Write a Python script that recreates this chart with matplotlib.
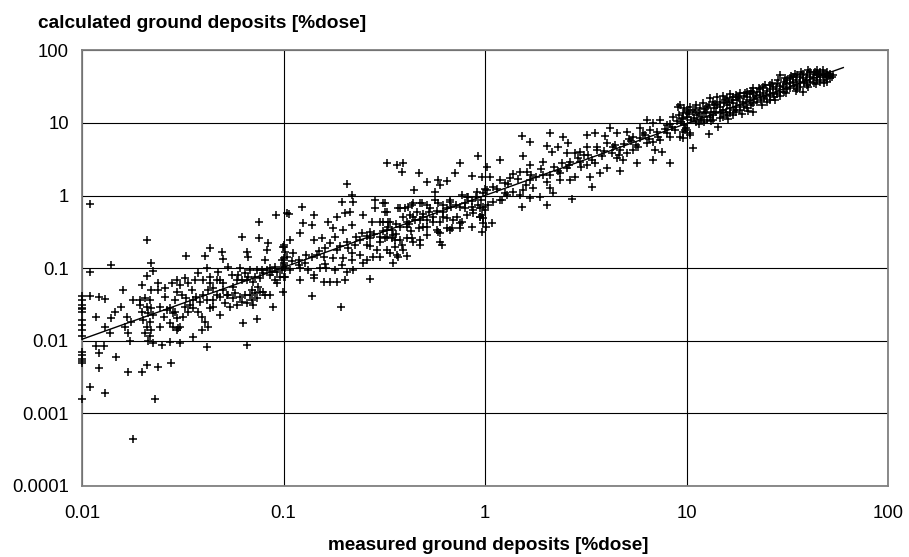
import matplotlib
matplotlib.use("Agg")
import matplotlib.pyplot as plt
from matplotlib.ticker import FixedLocator, FixedFormatter, NullLocator

plt.rcParams['font.family'] = ['Liberation Sans', 'DejaVu Sans']

# measured vs calculated ground deposits [%dose]
pts_decade1 = [
    (0.011, 0.77), (0.021, 0.244), (0.0139, 0.111), (0.0219, 0.119), (0.011, 0.0895), (0.0226, 0.091),
    (0.0211, 0.078), (0.0198, 0.0587), (0.0221, 0.050), (0.011, 0.0414), (0.0121, 0.040), (0.013, 0.0375),
    (0.01, 0.041), (0.01, 0.036), (0.01, 0.031), (0.01, 0.0285), (0.01, 0.027), (0.01, 0.025),
    (0.0157, 0.0295), (0.0146, 0.025), (0.014, 0.0204), (0.0163, 0.0156),
    (0.01, 0.0193), (0.01, 0.0166), (0.01, 0.0142), (0.01, 0.0115), (0.0118, 0.0215), (0.013, 0.0156),
    (0.0138, 0.0127), (0.017, 0.0127), (0.0173, 0.0098),
    (0.0194, 0.0365), (0.0206, 0.0385), (0.0217, 0.0365), (0.0194, 0.031), (0.021, 0.0295), (0.0221, 0.0284),
    (0.0198, 0.025), (0.0213, 0.024), (0.0226, 0.0228), (0.0201, 0.0193), (0.0217, 0.0183), (0.021, 0.0156),
    (0.0221, 0.0142), (0.0206, 0.0127), (0.0217, 0.0115), (0.0213, 0.0098), (0.0226, 0.0094),
    (0.0121, 0.0042), (0.0148, 0.006), (0.017, 0.00375), (0.0198, 0.00375), (0.021, 0.0047), (0.0239, 0.0044),
    (0.0278, 0.005), (0.011, 0.00233), (0.013, 0.0019), (0.01, 0.0016), (0.023, 0.0016), (0.018, 0.00044),
    (0.01, 0.0071), (0.01, 0.0064), (0.01, 0.0057), (0.01, 0.0052), (0.01, 0.0049), (0.0121, 0.0068),
    (0.0118, 0.0084), (0.0128, 0.0084),
    (0.0239, 0.062), (0.0258, 0.053), (0.0244, 0.0295), (0.0263, 0.0265), (0.0249, 0.0088), (0.0273, 0.0095),
    (0.0239, 0.05), (0.0258, 0.0405), (0.0279, 0.0618), (0.0295, 0.0475), (0.0289, 0.0365), (0.0254, 0.0215),
    (0.0274, 0.0174), (0.0295, 0.0141), (0.0244, 0.0157), (0.0167, 0.0215), (0.0176, 0.0183),
    (0.0179, 0.0365), (0.016, 0.05),
    (0.0918, 0.54), (0.104, 0.57), (0.076, 0.43), (0.062, 0.27), (0.076, 0.258), (0.084, 0.22), (0.1, 0.21),
    (0.0432, 0.188), (0.0328, 0.147), (0.0408, 0.147), (0.0493, 0.169), (0.0502, 0.132), (0.0656, 0.169),
    (0.0668, 0.144), (0.0825, 0.178), (0.081, 0.13),
    (0.1, 0.198), (0.102, 0.169), (0.1, 0.137), (0.101, 0.117), (0.102, 0.1), (0.1, 0.076),
    (0.0378, 0.087), (0.0415, 0.0995), (0.0432, 0.0765), (0.0475, 0.0895), (0.0484, 0.0689), (0.0532, 0.103),
    (0.0553, 0.0805), (0.0586, 0.0689), (0.0564, 0.0557), (0.0608, 0.0995), (0.0644, 0.085), (0.0682, 0.0944),
    (0.0656, 0.0689), (0.0723, 0.0765), (0.0764, 0.0726), (0.0794, 0.085), (0.0857, 0.0805), (0.0908, 0.0689),
    (0.0962, 0.0765), (0.075, 0.0557), (0.0695, 0.050), (0.0794, 0.0475), (0.0857, 0.0427), (0.0925, 0.062),
    (0.0295, 0.0689), (0.0306, 0.0588), (0.0324, 0.0726), (0.0337, 0.062), (0.035, 0.05), (0.0364, 0.0689),
    (0.0313, 0.0427), (0.033, 0.0385), (0.0343, 0.0311), (0.037, 0.0405), (0.04, 0.0427), (0.0424, 0.05),
    (0.0449, 0.0528), (0.0466, 0.0427), (0.0502, 0.05), (0.0532, 0.0427), (0.0564, 0.0385), (0.0513, 0.0328),
    (0.0542, 0.0295), (0.0586, 0.0311), (0.062, 0.0346), (0.0656, 0.0328), (0.0695, 0.0365), (0.0736, 0.0385),
    (0.0708, 0.0311),
    (0.0284, 0.0239), (0.0295, 0.0204), (0.0306, 0.0157), (0.0318, 0.0215), (0.0337, 0.0252), (0.0357, 0.028),
    (0.0378, 0.0252), (0.0393, 0.0215), (0.0408, 0.0184), (0.0432, 0.028), (0.0449, 0.0295), (0.0484, 0.0227),
    (0.0424, 0.0157), (0.0393, 0.0141), (0.0357, 0.0114), (0.0306, 0.0092), (0.0415, 0.0083), (0.0656, 0.0088),
    (0.0891, 0.0295), (0.0631, 0.0174), (0.0736, 0.0198), (0.0284, 0.0157), (0.03, 0.0149),
    (0.04, 0.0689), (0.0432, 0.062), (0.0466, 0.0689), (0.0502, 0.062), (0.0597, 0.0805), (0.062, 0.0689),
    (0.0668, 0.0765), (0.0708, 0.0653), (0.0736, 0.0944), (0.078, 0.0944), (0.0825, 0.0944), (0.0873, 0.0895),
    (0.0925, 0.0895), (0.098, 0.0944), (0.1, 0.111), (0.098, 0.13), (0.0908, 0.105), (0.0857, 0.0995),
    (0.0273, 0.028), (0.029, 0.0252), (0.0324, 0.0295), (0.0357, 0.0365), (0.0385, 0.0346), (0.0415, 0.0365),
    (0.0449, 0.0365), (0.0484, 0.0405), (0.0522, 0.0427), (0.0574, 0.0451), (0.0608, 0.0405), (0.0644, 0.0427),
    (0.0682, 0.0427), (0.0723, 0.0451), (0.0764, 0.0475), (0.081, 0.0427),
]

pts_decade2 = [
    (0.327, 2.84), (0.365, 2.64), (0.39, 2.78), (0.387, 2.14), (0.472, 2.03), (0.513, 1.56), (0.586, 1.64),
    (0.598, 1.4), (0.646, 1.61), (0.752, 2.78), (0.71, 2.07), (0.859, 1.86), (0.927, 3.51), (0.962, 1.82),
    (0.207, 1.44), (0.446, 1.19), (0.565, 1.13),
    (0.218, 1.02), (0.222, 0.824), (0.195, 0.824), (0.214, 0.601), (0.202, 0.57), (0.123, 0.703),
    (0.141, 0.541), (0.106, 0.558), (0.184, 0.513), (0.284, 0.869), (0.284, 0.668), (0.319, 0.782),
    (0.325, 0.601), (0.249, 0.541), (0.372, 0.668), (0.401, 0.668), (0.433, 0.741), (0.476, 0.782),
    (0.513, 0.741), (0.565, 0.869), (0.621, 0.741), (0.67, 0.824), (0.766, 1.02), (0.811, 0.966),
    (0.91, 1.13), (0.98, 1.07), (1.0, 1.25), (0.752, 0.703), (0.859, 0.703), (0.944, 0.668),
    (0.167, 0.438), (0.177, 0.354), (0.198, 0.336), (0.218, 0.394), (0.244, 0.302), (0.274, 0.438),
    (0.301, 0.438), (0.338, 0.438), (0.269, 0.318), (0.325, 0.336), (0.351, 0.286), (0.301, 0.272),
    (0.269, 0.258), (0.379, 0.373), (0.408, 0.438), (0.441, 0.513), (0.476, 0.461), (0.513, 0.461),
    (0.554, 0.513), (0.598, 0.438), (0.646, 0.486), (0.697, 0.461), (0.752, 0.415), (0.811, 0.541),
    (0.875, 0.57), (0.944, 0.513), (0.98, 0.415), (0.513, 0.373), (0.576, 0.336), (0.646, 0.354),
    (0.408, 0.258), (0.441, 0.232), (0.476, 0.244), (0.513, 0.286), (0.598, 0.302), (0.61, 0.209),
    (0.357, 0.244), (0.386, 0.209), (0.0998, 0.198), (0.108, 0.244), (0.121, 0.302), (0.125, 0.415),
    (0.138, 0.394), (0.141, 0.244), (0.155, 0.258), (0.18, 0.272), (0.17, 0.22), (0.184, 0.178),
    (0.206, 0.232), (0.226, 0.209), (0.24, 0.244), (0.259, 0.209), (0.29, 0.178),
    (0.104, 0.144), (0.112, 0.16), (0.119, 0.13), (0.128, 0.117), (0.138, 0.144), (0.146, 0.152),
    (0.158, 0.144), (0.177, 0.137), (0.198, 0.137), (0.218, 0.13), (0.24, 0.152), (0.259, 0.13),
    (0.279, 0.144), (0.301, 0.144), (0.338, 0.16), (0.372, 0.144), (0.408, 0.147), (0.351, 0.117),
    (0.249, 0.117), (0.0998, 0.105), (0.108, 0.0944), (0.121, 0.0995), (0.133, 0.0944), (0.141, 0.0805),
    (0.152, 0.0995), (0.163, 0.0995), (0.18, 0.0944), (0.195, 0.111), (0.206, 0.0895), (0.222, 0.0944),
    (0.102, 0.0764), (0.121, 0.0687), (0.141, 0.0724), (0.17, 0.0652), (0.184, 0.0652), (0.202, 0.0687),
    (0.0998, 0.0475), (0.138, 0.0414), (0.192, 0.0295), (0.27, 0.0703), (0.158, 0.0652),
    (0.11, 0.125), (0.13, 0.15), (0.15, 0.17), (0.16, 0.19), (0.19, 0.2), (0.21, 0.19), (0.23, 0.27),
    (0.26, 0.28), (0.28, 0.3), (0.31, 0.33), (0.33, 0.37), (0.36, 0.4), (0.42, 0.41), (0.45, 0.46),
    (0.49, 0.55), (0.53, 0.6), (0.58, 0.62), (0.62, 0.6), (0.68, 0.7), (0.72, 0.75), (0.8, 0.8),
    (0.86, 0.85), (0.9, 0.95), (0.95, 0.88), (0.43, 0.33), (0.47, 0.36), (0.36, 0.3), (0.3, 0.23),
    (0.22, 0.16), (0.16, 0.115), (0.12, 0.11), (0.27, 0.2), (0.32, 0.26),
    (0.313, 0.782), (0.319, 0.601), (0.313, 0.438), (0.331, 0.438), (0.344, 0.336), (0.325, 0.272),
    (0.344, 0.258), (0.325, 0.178), (0.357, 0.198), (0.365, 0.152), (0.378, 0.668), (0.393, 0.513),
    (0.417, 0.703), (0.425, 0.541), (0.408, 0.373), (0.441, 0.782), (0.458, 0.601), (0.485, 0.782),
    (0.494, 0.513), (0.533, 0.668), (0.554, 0.438), (0.586, 0.782), (0.621, 0.513), (0.646, 0.668),
    (0.67, 0.869), (0.684, 0.354), (0.723, 0.513), (0.766, 0.438), (0.796, 0.668), (0.826, 0.966),
    (0.875, 0.634), (0.927, 0.741), (0.944, 0.513), (1.0, 0.634), (1.01, 0.373), (0.378, 0.244),
    (0.393, 0.178), (0.433, 0.258), (0.476, 0.209), (0.494, 0.373), (0.586, 0.318), (0.598, 0.232),
    (0.67, 0.336), (0.752, 0.354), (0.859, 0.373),
]

pts_decade3 = [
    (1.52, 6.62), (1.67, 5.53), (2.1, 7.21), (2.45, 6.35), (2.02, 4.82), (2.14, 4.03), (2.31, 4.72),
    (2.59, 5.36), (3.19, 6.84), (3.51, 7.21), (3.94, 6.62), (4.17, 8.45), (4.5, 7.21), (5.05, 7.6),
    (5.88, 8.45), (6.34, 11.0), (6.84, 9.9), (7.38, 11.0), (7.96, 9.4), (8.59, 12.2), (9.1, 16.8),
    (9.64, 13.6), (10.2, 15.1), (5.45, 6.49), (6.1, 7.21), (6.84, 5.53), (7.38, 5.83), (8.28, 6.49),
    (9.28, 6.49), (9.82, 8.02),
    (1.19, 3.09), (1.54, 3.52), (1.95, 2.94), (1.02, 2.5), (2.54, 3.82), (2.96, 4.03), (3.19, 4.72),
    (3.58, 4.72), (3.26, 3.62), (4.02, 5.25), (4.25, 3.82), (4.68, 4.25), (5.05, 3.82), (5.45, 4.25),
    (5.77, 4.72), (6.34, 5.25), (6.97, 4.25), (7.53, 4.03), (5.66, 2.84), (6.84, 3.09), (8.28, 2.84),
    (4.02, 2.38), (4.68, 2.21), (4.5, 3.27), (4.85, 3.1), (2.96, 2.94), (3.19, 2.64), (3.51, 2.79),
    (2.64, 2.94), (2.54, 2.38), (2.36, 2.07), (2.1, 1.92), (1.95, 1.92), (1.8, 1.82), (1.67, 2.64),
    (1.61, 2.14), (1.49, 2.14), (1.38, 1.99), (1.33, 1.73), (1.26, 1.48), (1.19, 1.64), (1.06, 1.82),
    (1.1, 1.33), (1.02, 1.19), (2.64, 1.64), (2.79, 1.82), (3.32, 1.82), (3.72, 2.03), (2.36, 1.64),
    (2.02, 1.56), (1.67, 1.64), (1.74, 1.26), (1.55, 1.19), (2.1, 1.26), (2.18, 1.07), (1.87, 0.968),
    (1.67, 0.918), (1.49, 1.02), (1.38, 1.13), (1.28, 1.02), (1.19, 0.871), (1.1, 0.826), (1.04, 0.743),
    (0.98, 0.705), (1.52, 0.705), (2.02, 0.743), (2.69, 0.89), (3.38, 1.3), (0.962, 0.541), (0.98, 0.486),
    (1.08, 0.424), (0.962, 0.318), (1.21, 0.871),
    (2.9, 3.3), (3.1, 3.6), (3.4, 3.1), (3.8, 3.5), (4.3, 4.6), (4.9, 5.2), (5.3, 5.6), (5.9, 6.2),
    (6.5, 6.0), (7.1, 7.5), (7.8, 8.2), (8.5, 8.9), (9.0, 10.5), (8.0, 7.2), (6.2, 6.8), (5.6, 5.0),
    (4.6, 3.6), (3.9, 4.1), (3.0, 2.5), (2.8, 3.9), (2.4, 2.8), (2.2, 2.5), (1.9, 2.3), (1.7, 1.9),
    (1.45, 1.7), (1.3, 1.45), (1.15, 1.25), (1.25, 1.1), (1.6, 1.4), (2.3, 2.2), (2.6, 2.6), (3.6, 4.2),
    (4.4, 5.0), (5.2, 6.1), (6.6, 7.9), (7.2, 6.5), (8.8, 8.0), (9.5, 11.2), (8.3, 9.8),
]

pts_decade4 = [
    (9.3, 17.7), (9.2, 12.9), (9.4, 10.4), (9.7, 15.9), (9.6, 11.6), (9.7, 9.4), (9.6, 7.6),
    (10.0, 14.3), (10.1, 12.0), (9.9, 8.5), (10.4, 16.8), (10.3, 13.5), (10.5, 10.9), (10.4, 7.2),
    (10.8, 14.3), (10.9, 11.6), (10.8, 4.5), (11.2, 17.7), (11.3, 12.9), (11.1, 10.4),
    (11.7, 15.9), (11.6, 13.6), (11.8, 11.0), (12.1, 18.7), (12.2, 14.3), (12.0, 12.2), (12.2, 10.4),
    (12.6, 16.8), (12.5, 13.6), (12.7, 11.0), (13.1, 21.9), (13.0, 17.7), (13.2, 14.3), (13.1, 12.2),
    (13.0, 7.0), (13.6, 19.7), (13.7, 15.9), (13.5, 12.9), (13.6, 11.0), (14.1, 22.5), (14.2, 17.7),
    (14.0, 14.3), (14.4, 8.9), (14.7, 19.7), (14.6, 16.8), (14.8, 13.6), (14.7, 11.6),
    (15.2, 23.5), (15.3, 18.7), (15.1, 15.1), (15.2, 12.2), (15.8, 21.9), (15.9, 17.7), (15.7, 14.3),
    (15.8, 12.9), (16.4, 25.0), (16.3, 19.7), (16.5, 15.9), (16.4, 13.6), (17.1, 22.5), (17.0, 18.7),
    (17.2, 15.1), (17.1, 12.9), (17.7, 24.3), (17.8, 20.7), (17.6, 16.8), (17.7, 14.3),
    (18.4, 26.0), (18.3, 21.9), (18.5, 17.7), (18.4, 15.1), (19.2, 23.5), (19.1, 19.7), (19.3, 16.8),
    (19.9, 27.1), (20.0, 22.5), (19.8, 18.7), (19.9, 15.9), (20.7, 25.0), (20.6, 20.7), (20.8, 17.7),
    (21.5, 30.1), (21.4, 26.0), (21.6, 21.9), (21.5, 18.7), (21.5, 14.3), (22.3, 27.1), (22.2, 23.5),
    (22.4, 19.7), (23.2, 29.0), (23.1, 24.3), (23.3, 20.7), (24.1, 31.5), (24.0, 26.0), (24.2, 21.9),
    (25.0, 28.0), (24.9, 23.5), (25.1, 19.7), (26.0, 33.4), (25.9, 29.0), (26.1, 24.3), (26.0, 21.0),
    (27.0, 31.5), (26.9, 26.0), (27.1, 22.5), (28.0, 34.5), (27.9, 29.0), (28.1, 25.0),
    (29.1, 45.9), (29.0, 32.0), (29.2, 27.1), (29.1, 23.5), (30.3, 37.2), (30.2, 31.0), (30.4, 27.1),
    (31.4, 39.0), (31.3, 34.5), (31.5, 29.0), (32.7, 41.3), (32.6, 35.5), (32.8, 30.1),
    (33.9, 43.5), (33.8, 37.2), (34.0, 32.0), (35.2, 45.9), (35.1, 39.0), (35.3, 33.4), (35.2, 29.0),
    (36.6, 43.5), (36.5, 37.2), (36.7, 31.0), (38.0, 47.9), (37.9, 41.3), (38.1, 35.5), (38.0, 27.1),
    (39.5, 45.9), (39.4, 39.0), (39.6, 33.4), (41.0, 50.9), (40.9, 43.5), (41.1, 37.2),
    (42.7, 47.9), (42.6, 41.3), (42.8, 35.5), (44.3, 53.0), (44.2, 45.9), (44.4, 39.0),
    (46.0, 50.9), (45.9, 43.5), (46.1, 37.2), (47.8, 53.0), (47.7, 45.9), (47.9, 39.5),
    (49.6, 50.9), (49.5, 43.5), (49.7, 37.2), (51.6, 47.9), (51.5, 41.3), (53.6, 45.9),
    (9.66, 6.15), (10.4, 6.84),
    (11.0, 15.0), (12.4, 15.5), (13.8, 18.5), (15.5, 20.5), (16.8, 21.0), (18.0, 23.0), (19.5, 25.5),
    (21.0, 28.0), (22.8, 30.5), (24.5, 33.0), (26.5, 35.5), (28.5, 38.5), (30.8, 42.0), (33.0, 44.0),
    (34.5, 47.0), (37.0, 50.0), (40.0, 53.0), (43.5, 50.0), (45.0, 47.0), (48.5, 48.0), (50.5, 44.5),
    (52.5, 43.0), (11.5, 9.8), (13.3, 10.5), (16.0, 11.5), (18.8, 13.5), (20.2, 14.8), (23.8, 17.8),
    (27.5, 20.5), (31.0, 25.5), (34.8, 27.5), (40.0, 31.0), (44.0, 34.5), (48.0, 35.5),
]

# fitted trend line (end points)
trend_x = [0.01, 60.0]
trend_y = [0.0105, 58.0]

x_ticks = [0.01, 0.1, 1, 10, 100]
x_labels = ["0.01", "0.1", "1", "10", "100"]
y_ticks = [0.0001, 0.001, 0.01, 0.1, 1, 10, 100]
y_labels = ["0.0001", "0.001", "0.01", "0.1", "1", "10", "100"]

title_y = "calculated ground deposits [%dose]"
title_x = "measured ground deposits [%dose]"

W, H = 909, 557
fig = plt.figure(figsize=(W / 100, H / 100), dpi=100)
ax = fig.add_axes([82 / W, 1 - 486 / H, (888 - 82) / W, (486 - 50.4) / H])
ax.set_xscale('log')
ax.set_yscale('log')
ax.set_xlim(0.01, 100)
ax.set_ylim(0.0001, 100)

all_pts = pts_decade1 + pts_decade2 + pts_decade3 + pts_decade4
xs = [p[0] for p in all_pts]
ys = [p[1] for p in all_pts]
ax.plot(xs, ys, linestyle='none', marker='+', color='black', ms=5.4, mew=1.1,
        clip_on=False, zorder=3)
ax.plot(trend_x, trend_y, color='black', lw=1.0, zorder=4)

ax.xaxis.set_major_locator(FixedLocator(x_ticks))
ax.xaxis.set_major_formatter(FixedFormatter(x_labels))
ax.yaxis.set_major_locator(FixedLocator(y_ticks))
ax.yaxis.set_major_formatter(FixedFormatter(y_labels))
ax.xaxis.set_minor_locator(NullLocator())
ax.yaxis.set_minor_locator(NullLocator())
ax.tick_params(axis='both', length=0, labelsize=13.3, colors='black')
ax.tick_params(axis='y', pad=9.5)
ax.tick_params(axis='x', pad=14)

ax.grid(True, which='major', color='black', lw=0.8)
ax.set_axisbelow(True)
for s in ax.spines.values():
    s.set_color('#808080')
    s.set_linewidth(1.3)

fig.text(38 / W, 1 - 27.5 / H, title_y, fontsize=13.8, fontweight='bold',
         ha='left', va='baseline')
fig.text(488 / W, 1 - 550 / H, title_x, fontsize=13.6, fontweight='bold',
         ha='center', va='baseline')

fig.savefig('out.png', dpi=100)
